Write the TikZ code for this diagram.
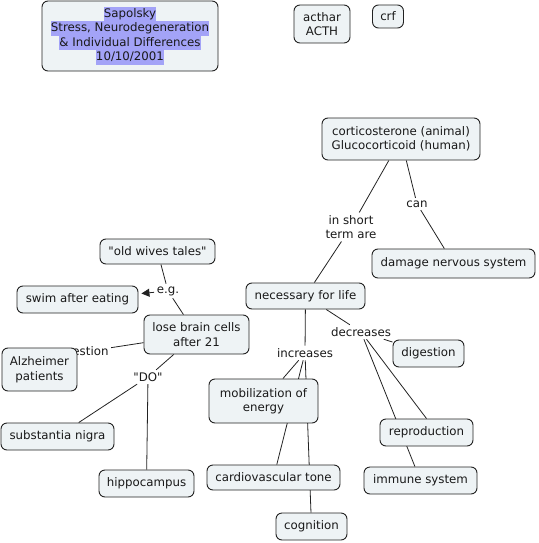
\documentclass[tikz,border=0pt]{standalone}
\usepackage{fontspec}
\setmainfont[Ligatures=TeXOff]{DejaVu Sans}
\usetikzlibrary{arrows.meta}
\pgfdeclarelayer{background}
\pgfsetlayers{background,main}
\definecolor{nodefill}{HTML}{EEF3F5}
\definecolor{hl}{HTML}{A3A3F7}
\definecolor{edge}{HTML}{222222}
\setlength{\fboxsep}{0pt}
\newcommand{\hlline}[1]{\colorbox{hl}{\strut #1}}
\begin{document}
\begin{tikzpicture}[x=1pt,y=-1pt,
  concept/.style={draw=edge, fill=nodefill, rounded corners=6pt, line width=0.9pt, align=center, inner sep=0pt, text=black!90, font=\fontsize{11.8}{14.5}\selectfont},
  linkphrase/.style={align=center, inner sep=2.5pt, text=black!90, font=\fontsize{11.8}{14.5}\selectfont},
  link/.style={draw=edge, line width=0.8pt}]
\useasboundingbox (0,0) rectangle (538,543);

% concepts
\node[concept, minimum width=176pt, minimum height=70pt] (title) at (130,36)
  {\hlline{Sapolsky}\\\hlline{Stress, Neurodegeneration}\\\hlline{\& Individual Differences}\\\hlline{10/10/2001}};
\node[concept, minimum width=56pt, minimum height=38pt] (acth) at (322,24) {acthar\\ACTH};
\node[concept, minimum width=31pt, minimum height=23pt] (crf) at (388,16.5) {crf};
\node[concept, minimum width=158pt, minimum height=42pt] (cort) at (401,139) {corticosterone (animal)\\Glucocorticoid (human)};
\node[concept, minimum width=163pt, minimum height=29pt] (damage) at (453.5,263.5) {damage nervous system};
\node[concept, minimum width=119pt, minimum height=26pt] (nec) at (305.5,296) {necessary for life};
\node[concept, minimum width=115pt, minimum height=25pt] (oldw) at (157.5,251.5) {"old wives tales"};
\node[concept, minimum width=121pt, minimum height=27pt] (swim) at (77.5,299.5) {swim after eating};
\node[concept, minimum width=105pt, minimum height=39pt] (lose) at (196.5,334.5) {lose brain cells\\after 21};
\node[linkphrase] (quest) at (83,352) {question};
\node[concept, minimum width=75pt, minimum height=43pt] (alz) at (39.5,369.5) {Alzheimer\\patients};
\node[concept, minimum width=113pt, minimum height=27pt] (subst) at (57.5,436.5) {substantia nigra};
\node[concept, minimum width=95pt, minimum height=27pt] (hippo) at (146.5,483.5) {hippocampus};
\node[concept, minimum width=109pt, minimum height=44pt] (mobil) at (263.5,401) {mobilization of\\energy};
\node[concept, minimum width=133pt, minimum height=25pt] (cardio) at (273.5,477.5) {cardiovascular tone};
\node[concept, minimum width=71pt, minimum height=27pt] (cog) at (311.5,526.5) {cognition};
\node[concept, minimum width=71pt, minimum height=27pt] (dig) at (428.5,353.5) {digestion};
\node[concept, minimum width=93pt, minimum height=27pt] (repro) at (426.5,432.5) {reproduction};
\node[concept, minimum width=113pt, minimum height=27pt] (immune) at (420.5,480.5) {immune system};

% linking phrases
\node[linkphrase] (short) at (351,227) {in short\\term are};
\node[linkphrase] (can) at (417,204) {can};
\node[linkphrase] (incr) at (305,353) {increases};
\node[linkphrase] (decr) at (361,332) {decreases};
\node[linkphrase] (eg) at (168,291) {e.g.};
\node[linkphrase] (do) at (148,377) {"DO"};

\begin{pgfonlayer}{background}
\draw[link] (cort) -- (short);
\draw[link] (short) -- (nec);
\draw[link] (cort) -- (can);
\draw[link] (can) -- (damage);
\draw[link] (nec) -- (incr);
\draw[link] (incr) -- (mobil);
\draw[link] (incr) -- (cardio);
\draw[link] (incr) -- (cog);
\draw[link] (nec) -- (decr);
\draw[link] (decr) -- (dig);
\draw[link] (decr) -- (repro.north);
\draw[link] (decr) -- (immune);
\draw[link] (oldw) -- (eg);
\draw[link] (eg) -- (lose);
\draw[link, -{Triangle[length=8pt,width=8pt]}, shorten >=3pt] (eg) -- (swim);
\draw[link] (lose) -- (quest);
\draw[link] (quest) -- (alz);
\draw[link] (lose) -- (do);
\draw[link] (do) -- (subst);
\draw[link] (do) -- (hippo);
\end{pgfonlayer}
\end{tikzpicture}
\end{document}
